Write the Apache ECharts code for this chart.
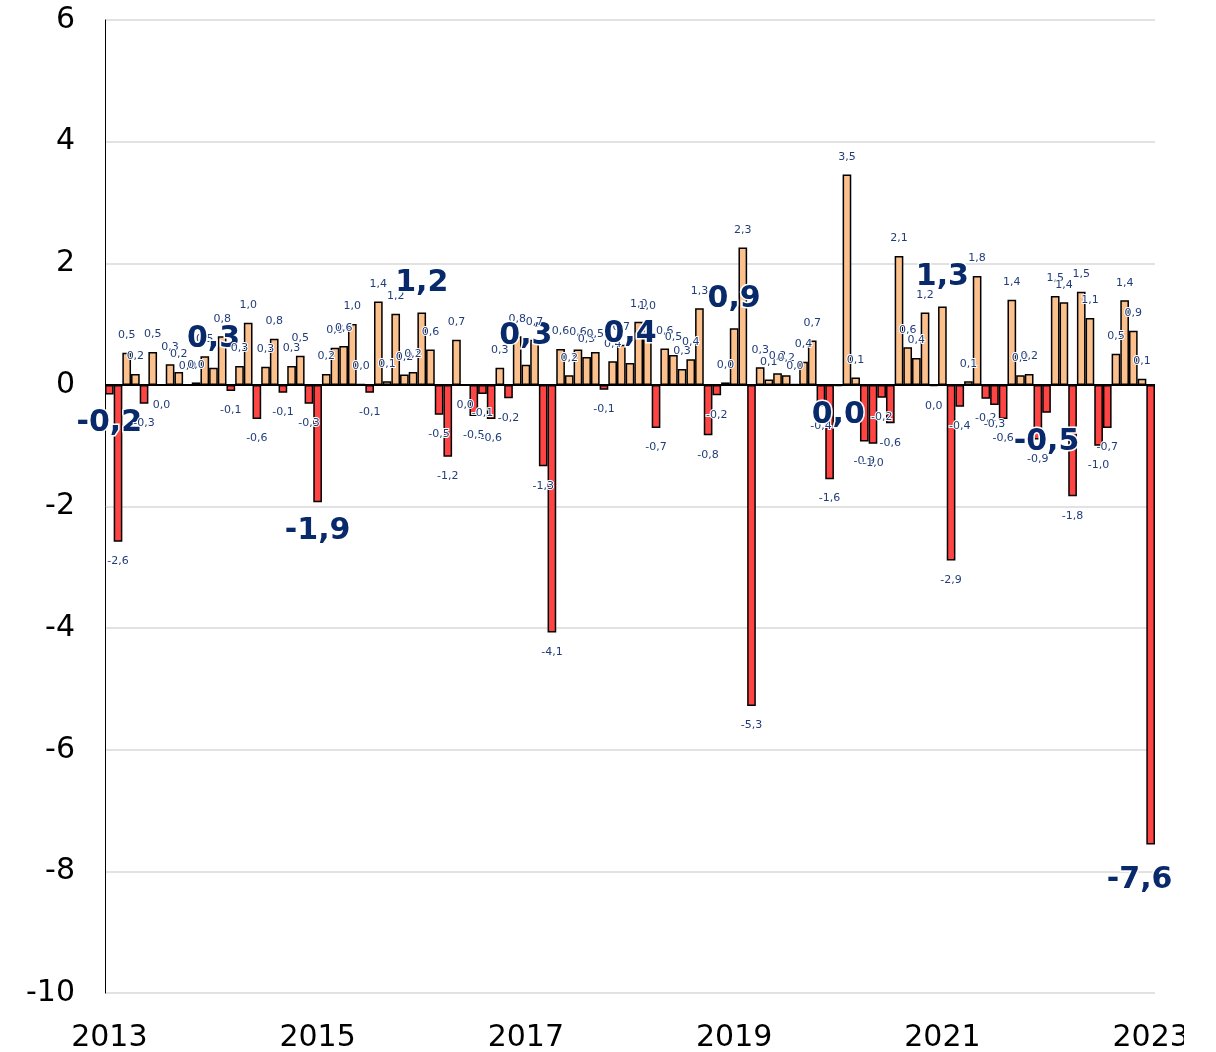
<!DOCTYPE html>
<html>
<head>
<meta charset="utf-8">
<title>Monatliche Veränderung</title>
<script src="https://cdn.jsdelivr.net/npm/echarts@6/dist/echarts.min.js"></script>
<style>
  html, body { margin: 0; padding: 0; background: #fff; }
  #chart { width: 1184px; height: 1052px; }
</style>
</head>
<body>
<div id="chart"></div>
<script>
// Monatswerte, Januar 2013 bis Januar 2023
const v2013 = [-0.16, -2.58, 0.53, 0.18, -0.31, 0.54, -0.01, 0.34, 0.21, 0.0, 0.04, 0.47]
const v2014 = [0.28, 0.8, -0.1, 0.31, 1.02, -0.56, 0.3, 0.76, -0.13, 0.31, 0.48, -0.31]
const v2015 = [-1.93, 0.18, 0.61, 0.64, 1.0, 0.01, -0.13, 1.37, 0.06, 1.17, 0.17, 0.21]
const v2016 = [1.19, 0.58, -0.49, -1.18, 0.74, -0.01, -0.51, -0.15, -0.56, 0.28, -0.22, 0.8]
const v2017 = [0.33, 0.74, -1.34, -4.07, 0.59, 0.16, 0.58, 0.46, 0.54, -0.08, 0.39, 0.66]
const v2018 = [0.36, 1.04, 1.01, -0.71, 0.6, 0.49, 0.26, 0.42, 1.26, -0.83, -0.17, 0.04]
const v2019 = [0.93, 2.26, -5.28, 0.29, 0.09, 0.19, 0.16, 0.01, 0.38, 0.73, -0.36, -1.55]
const v2020 = [-0.02, 3.46, 0.12, -0.93, -0.97, -0.21, -0.63, 2.12, 0.62, 0.44, 1.19, -0.02]
const v2021 = [1.29, -2.89, -0.36, 0.06, 1.79, -0.23, -0.33, -0.56, 1.4, 0.16, 0.18, -0.9]
const v2022 = [-0.46, 1.46, 1.36, -1.83, 1.53, 1.1, -1.0, -0.71, 0.51, 1.39, 0.89, 0.1]
const v2023 = [-7.56]

const years = [2013, 2014, 2015, 2016, 2017, 2018, 2019, 2020, 2021, 2022, 2023]
const yearValues = [v2013, v2014, v2015, v2016, v2017, v2018, v2019, v2020, v2021, v2022, v2023]

// y-Achse
const yMin = -10
const yMax = 6
const yStep = 2

const FONT = 'DejaVu Sans'
const POS_COLOR = '#fbc08b'
const NEG_COLOR = '#ff4444'

// Kategorien: ein Eintrag je Monat
const months = []
const values = []
yearValues.forEach((arr, i) => {
  arr.forEach((v, m) => {
    months.push(years[i] + '-' + String(m + 1).padStart(2, '0'))
    values.push(v)
  })
})

const fmt = v => {
  const r = Math.abs(v) < 0.05 ? 0 : v
  return r.toFixed(1).replace('.', ',')
}

const barData = values.map((v, i) => {
  const neg = v < 0
  const jan = i % 12 === 0
  const last = i === values.length - 1
  return {
    value: v,
    itemStyle: { color: neg ? NEG_COLOR : POS_COLOR },
    label: jan
      ? {
          position: neg ? 'bottom' : 'top',
          distance: 14,
          offset: last ? [-11, 7] : [0, 0],
          fontSize: 30,
          fontWeight: 'bold',
          color: '#082a6b',
          textBorderColor: '#fff',
          textBorderWidth: 3
        }
      : {
          position: neg ? 'bottom' : 'top',
          distance: neg ? 14 : 12
        }
  }
})

const chart = echarts.init(document.getElementById('chart'), null, { renderer: 'canvas' })

const option = {
  animation: false,
  backgroundColor: '#fff',
  grid: {
    left: 105,
    right: 29,
    top: 20,
    bottom: 59,
    containLabel: false,
    outerBoundsMode: 'none'
  },
  xAxis: {
    type: 'category',
    data: months,
    boundaryGap: true,
    axisLine: { show: false },
    axisTick: { show: false },
    axisLabel: {
      interval: 23,
      margin: 30,
      fontSize: 30,
      fontFamily: FONT,
      color: '#000',
      formatter: v => v.slice(0, 4)
    },
    splitLine: { show: false }
  },
  yAxis: {
    type: 'value',
    min: yMin,
    max: yMax,
    interval: yStep,
    axisLine: { show: true, lineStyle: { color: '#000', width: 1 } },
    axisTick: { show: false },
    axisLabel: {
      margin: 30,
      fontSize: 30,
      fontFamily: FONT,
      color: '#000'
    },
    splitLine: { lineStyle: { color: '#d9d9d9', width: 1.5 } }
  },
  series: [
    {
      type: 'bar',
      data: barData,
      barCategoryGap: '0%',
      itemStyle: { borderColor: '#000', borderWidth: 1.5 },
      label: {
        show: true,
        fontSize: 11,
        fontFamily: FONT,
        color: '#203d7a',
        textBorderColor: '#fff',
        textBorderWidth: 2,
        formatter: p => fmt(p.value)
      },
      markLine: {
        silent: true,
        symbol: 'none',
        label: { show: false },
        lineStyle: { color: '#000', width: 2, type: 'solid' },
        data: [{ yAxis: 0 }]
      }
    }
  ]
}

chart.setOption(option)
</script>
</body>
</html>
